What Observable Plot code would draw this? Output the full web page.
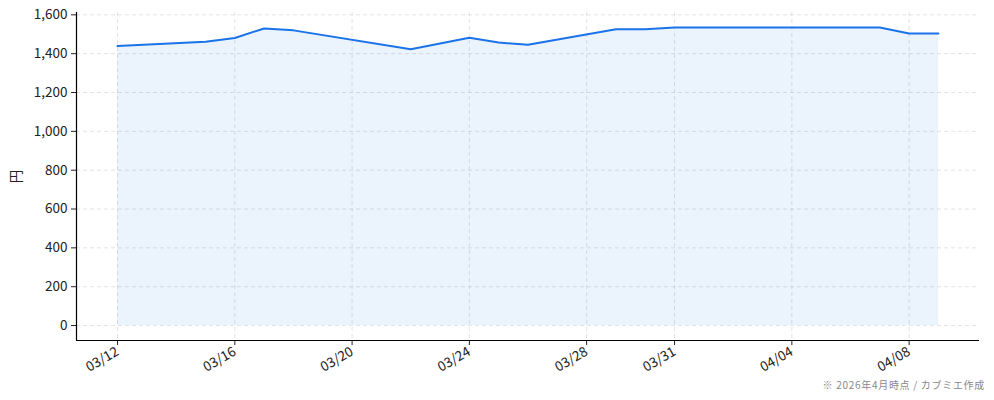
<!DOCTYPE html>
<html><head><meta charset="utf-8">
<script src="https://cdn.jsdelivr.net/npm/d3@7"></script>
<script src="https://cdn.jsdelivr.net/npm/@observablehq/plot@0.6"></script>
<style>
body{margin:0;background:#fff;font-family:"Noto Sans CJK JP","Noto Sans",sans-serif;}
#wrap{position:relative;width:994px;height:400px;}
#cap{position:absolute;right:9px;top:377px;font-size:10px;color:#888;letter-spacing:0.7px;}
</style></head>
<body><div id="wrap"><div id="cap">※ 2026年4月時点 / カブミエ作成</div></div>
<script>
const dates = ["2026-03-12","2026-03-15","2026-03-16","2026-03-17","2026-03-18","2026-03-22","2026-03-24","2026-03-25","2026-03-26","2026-03-29","2026-03-30","2026-03-31","2026-04-07","2026-04-08","2026-04-09"];
const prices = [1439,1461,1481,1530,1520,1423,1482,1457,1446,1526,1526,1535,1535,1504,1504];
const tickDates = ["2026-03-12","2026-03-16","2026-03-20","2026-03-24","2026-03-28","2026-03-31","2026-04-04","2026-04-08"];
const yTicks = [0,200,400,600,800,1000,1200,1400,1600];

const parse = d3.utcParse("%Y-%m-%d");
const data = dates.map((d,i)=>({date:parse(d), price:prices[i]}));
const xt = tickDates.map(parse);
const day = 864e5;
const x0 = new Date(+data[0].date - 1.4*day), x1 = new Date(+data[data.length-1].date + 1.4*day);
const fmt = d3.utcFormat("%m/%d");

const chart = Plot.plot({
  width: 994, height: 400,
  marginLeft: 76, marginRight: 15, marginTop: 12, marginBottom: 60,
  style: {fontFamily: '"Noto Sans CJK JP","Noto Sans",sans-serif', fontSize: "13px", color: "#222"},
  x: {type: "utc", domain: [x0, x1]},
  y: {domain: [-77, 1612]},
  marks: [
    Plot.gridX(xt, {stroke: "#cfcfd8", strokeOpacity: 0.6, strokeDasharray: "4,3"}),
    Plot.gridY(yTicks, {stroke: "#cfcfd8", strokeOpacity: 0.6, strokeDasharray: "4,3"}),
    Plot.areaY(data, {x: "date", y: "price", fill: "#1a73e8", fillOpacity: 0.085}),
    Plot.lineY(data, {x: "date", y: "price", stroke: "#1a73e8", strokeWidth: 2}),
    Plot.axisX({ticks: xt, tickFormat: fmt, tickRotate: -30, tickSize: 5, tickPadding: 5, fontSize: 13.5, label: null}),
    Plot.axisY({ticks: yTicks, tickFormat: d3.format(","), tickSize: 5, fontSize: 13.5, label: "円", labelAnchor: "center", labelArrow: "none", labelOffset: 65}),
    Plot.ruleX([x0], {stroke: "#000", strokeWidth: 1.2}),
    Plot.ruleY([-77], {stroke: "#000", strokeWidth: 1.2})
  ]
});
document.getElementById("wrap").prepend(chart);
</script></body></html>
